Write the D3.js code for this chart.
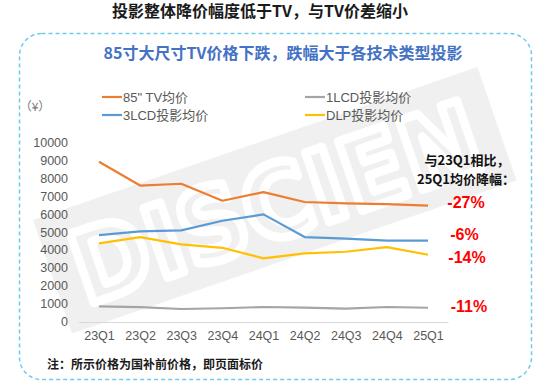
<!DOCTYPE html>
<html lang="zh">
<head>
  <meta charset="UTF-8">
  <title>85寸大尺寸TV与投影均价</title>
  <script src="https://d3js.org/d3.v7.min.js"></script>
  <style>
    html, body {
      margin: 0;
      padding: 0;
      background: #fff;
    }
    svg {
      display: block;
      font-family: "Liberation Sans", Arial, "Noto Sans CJK SC", sans-serif;
    }
  </style>
</head>
<body>
  <svg width="550" height="386"></svg>

  <script>
    // data
    const quarters = ["23Q1", "23Q2", "23Q3", "23Q4", "24Q1", "24Q2", "24Q3", "24Q4", "25Q1"];
    const tvPrice    = [8930, 7600, 7700, 6750, 7230, 6680, 6600, 6560, 6480];
    const lcd1Price  = [850, 800, 700, 740, 810, 775, 720, 810, 770];
    const lcd3Price  = [4830, 5040, 5090, 5630, 5990, 4720, 4630, 4520, 4520];
    const dlpPrice   = [4370, 4720, 4310, 4120, 3530, 3810, 3900, 4160, 3730];
    const yTicks     = [0, 1000, 2000, 3000, 4000, 5000, 6000, 7000, 8000, 9000, 10000];
    const seriesNames  = ["85\" TV均价", "1LCD投影均价", "3LCD投影均价", "DLP投影均价"];
    const seriesColors = ["#ED7D31", "#A5A5A5", "#5B9BD5", "#FFC000"];
    const changeLabels = ["-27%", "-11%", "-6%", "-14%"];

    const series = [tvPrice, lcd1Price, lcd3Price, dlpPrice].map((values, i) => ({
      name: seriesNames[i],
      color: seriesColors[i],
      change: changeLabels[i],
      values: values
    }));

    const svg = d3.select("svg");
    const cjk = "\"Noto Sans CJK SC\", \"Liberation Sans\", sans-serif";

    // watermark band
    const wm = svg.append("g")
      .attr("transform", "translate(33,220) rotate(-19)");
    wm.append("rect")
      .attr("width", 470)
      .attr("height", 120)
      .attr("fill", "#f0f0f0");
    wm.append("text")
      .attr("x", 22)
      .attr("y", 98)
      .attr("textLength", 426)
      .attr("lengthAdjust", "spacingAndGlyphs")
      .style("font-family", "\"DejaVu Sans\", sans-serif")
      .style("font-size", "100px")
      .style("font-weight", "bold")
      .attr("fill", "#f0f0f0")
      .attr("stroke", "#fff")
      .attr("stroke-width", 9)
      .attr("stroke-linejoin", "round")
      .text("DISCIEN");

    // dashed frame
    svg.append("rect")
      .attr("x", 19.5)
      .attr("y", 33.5)
      .attr("width", 512)
      .attr("height", 346)
      .attr("rx", 22)
      .attr("fill", "none")
      .attr("stroke", "#6CCBEB")
      .attr("stroke-width", 1.5)
      .attr("stroke-dasharray", "4 3");

    // titles
    svg.append("text")
      .attr("x", 260)
      .attr("y", 17)
      .attr("text-anchor", "middle")
      .style("font-family", cjk)
      .style("font-size", "16px")
      .style("font-weight", "bold")
      .attr("fill", "#1a1a1a")
      .text("投影整体降价幅度低于TV，与TV价差缩小");

    svg.append("text")
      .attr("x", 283)
      .attr("y", 59)
      .attr("text-anchor", "middle")
      .style("font-family", cjk)
      .style("font-size", "16px")
      .style("font-weight", "bold")
      .attr("fill", "#4472C4")
      .text("85寸大尺寸TV价格下跌，跌幅大于各技术类型投影");

    // scales
    const x = d3.scalePoint().domain(quarters).range([99, 428]);
    const y = d3.scaleLinear().domain([0, 10000]).range([321.5, 142.6]);

    // y axis labels
    const yAxis = d3.axisLeft(y).tickValues(yTicks).tickSize(0).tickPadding(0).tickFormat(d3.format("d"));
    svg.append("g")
      .attr("transform", "translate(68,0)")
      .call(yAxis)
      .call(g => g.select(".domain").remove())
      .call(g => g.selectAll("text")
        .attr("fill", "#595959")
        .style("font-family", "\"Liberation Sans\", Arial, sans-serif")
        .style("font-size", "12.5px"));

    // x axis
    const xAxis = d3.axisBottom(x).tickSize(0).tickPadding(9);
    svg.append("g")
      .attr("transform", "translate(0,322)")
      .call(xAxis)
      .call(g => g.select(".domain")
        .attr("d", "M79,0.5H448.5")
        .attr("stroke", "#D9D9D9"))
      .call(g => g.selectAll("text")
        .attr("fill", "#595959")
        .style("font-family", "\"Liberation Sans\", Arial, sans-serif")
        .style("font-size", "12.5px"));

    // unit label
    svg.append("text")
      .attr("x", 35)
      .attr("y", 111)
      .attr("text-anchor", "middle")
      .style("font-family", cjk)
      .style("font-size", "12px")
      .attr("fill", "#777")
      .text("（¥）");

    // lines
    const line = d3.line()
      .x((d, i) => x(quarters[i]))
      .y(d => y(d));

    svg.append("g")
      .selectAll("path")
      .data(series)
      .join("path")
      .attr("fill", "none")
      .attr("stroke", d => d.color)
      .attr("stroke-width", 2.2)
      .attr("stroke-linejoin", "round")
      .attr("d", d => line(d.values));

    // legend (2 x 2)
    const legendPos = [[102, 97], [305, 97], [102, 115], [305, 115]];
    const legend = svg.append("g")
      .selectAll("g")
      .data(series)
      .join("g")
      .attr("transform", (d, i) => `translate(${legendPos[i][0]},${legendPos[i][1]})`);
    legend.append("line")
      .attr("x1", 0)
      .attr("x2", 20)
      .attr("stroke", d => d.color)
      .attr("stroke-width", 2.2);
    legend.append("text")
      .attr("x", 21)
      .attr("dy", "0.36em")
      .style("font-size", "13px")
      .attr("fill", "#595959")
      .text(d => d.name);

    // annotations
    svg.append("text")
      .attr("x", 467)
      .attr("y", 165)
      .attr("text-anchor", "middle")
      .style("font-family", cjk)
      .style("font-size", "13px")
      .style("font-weight", "bold")
      .attr("fill", "#111")
      .text("与23Q1相比，");
    svg.append("text")
      .attr("x", 466)
      .attr("y", 184)
      .attr("text-anchor", "middle")
      .style("font-family", cjk)
      .style("font-size", "13px")
      .style("font-weight", "bold")
      .attr("fill", "#111")
      .text("25Q1均价降幅：");

    const changeY = [202.7, 306.7, 234.3, 257.7];
    const changeX = [466, 469, 464.5, 467];
    svg.append("g")
      .selectAll("text")
      .data(series)
      .join("text")
      .attr("x", (d, i) => changeX[i])
      .attr("y", (d, i) => changeY[i])
      .attr("dy", "0.36em")
      .attr("text-anchor", "middle")
      .style("font-size", "16px")
      .style("font-weight", "bold")
      .attr("fill", "#FF0000")
      .text(d => d.change);

    // footnote
    svg.append("text")
      .attr("x", 47)
      .attr("y", 368.5)
      .style("font-family", cjk)
      .style("font-size", "12px")
      .style("font-weight", "bold")
      .attr("fill", "#1a1a1a")
      .text("注：所示价格为国补前价格，即页面标价");
  </script>
</body>
</html>
